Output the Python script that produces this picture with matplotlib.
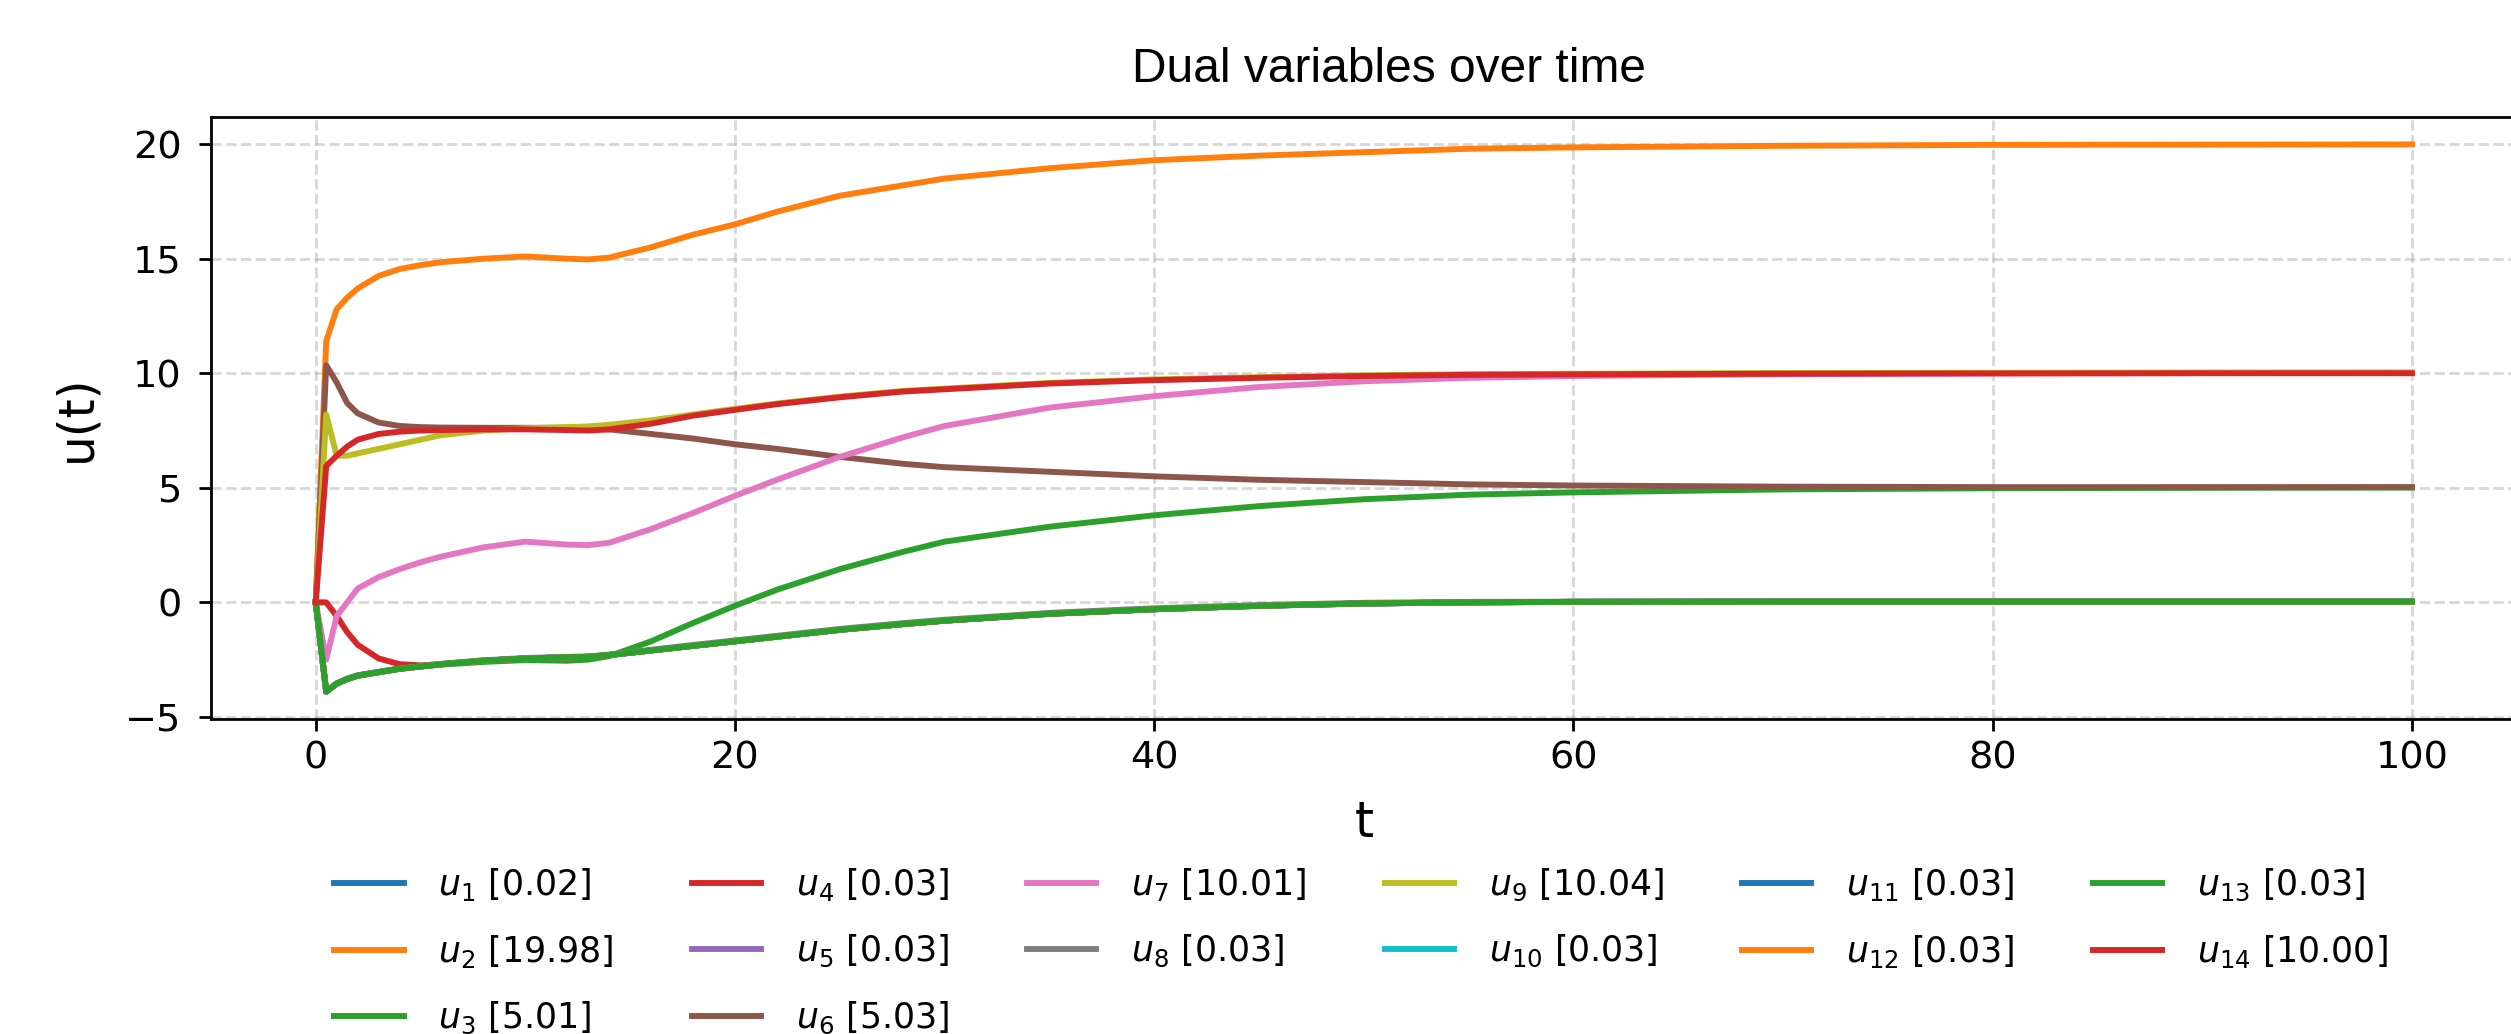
import matplotlib
matplotlib.use("Agg")
import matplotlib.pyplot as plt
import numpy as np

# time samples
t = [0, 0.5, 1, 1.5, 2, 3, 4, 5, 6, 8, 10, 12, 13, 14, 16, 18, 20, 22, 25, 28,
     30, 35, 40, 45, 50, 55, 60, 70, 80, 90, 100]

# lower bundle that most of the ~0 duals follow
u_bundle = [0, -3.9, -3.55, -3.35, -3.2, -3.05, -2.9, -2.8, -2.7, -2.55, -2.45,
            -2.4, -2.38, -2.3, -2.1, -1.9, -1.7, -1.5, -1.2, -0.95, -0.8, -0.5,
            -0.3, -0.15, -0.05, 0.0, 0.02, 0.03, 0.03, 0.03, 0.03]
u2 = [0, 11.4, 12.8, 13.3, 13.7, 14.25, 14.55, 14.72, 14.85, 15.0, 15.1, 15.0,
      14.97, 15.05, 15.5, 16.05, 16.5, 17.05, 17.75, 18.2, 18.5, 18.95, 19.3,
      19.5, 19.65, 19.8, 19.86, 19.93, 19.97, 19.98, 19.99]
u3 = [0, -3.9, -3.55, -3.35, -3.2, -3.05, -2.9, -2.8, -2.72, -2.6, -2.52, -2.55,
      -2.5, -2.35, -1.7, -0.9, -0.15, 0.55, 1.45, 2.2, 2.65, 3.3, 3.8, 4.2, 4.5,
      4.7, 4.8, 4.93, 4.98, 5.0, 5.01]
u4 = [0, 0.0, -0.6, -1.3, -1.85, -2.45, -2.7, -2.75, -2.7, -2.55, -2.45, -2.4,
      -2.38, -2.3, -2.1, -1.9, -1.7, -1.5, -1.2, -0.95, -0.8, -0.5, -0.3, -0.15,
      -0.05, 0.0, 0.02, 0.03, 0.03, 0.03, 0.03]
u6 = [0, 10.35, 9.6, 8.7, 8.25, 7.85, 7.7, 7.65, 7.63, 7.62, 7.62, 7.62, 7.6,
      7.55, 7.35, 7.15, 6.9, 6.7, 6.35, 6.05, 5.9, 5.7, 5.5, 5.35, 5.25, 5.15,
      5.1, 5.05, 5.03, 5.03, 5.03]
u7 = [0, -2.5, -0.6, 0.0, 0.6, 1.1, 1.45, 1.75, 2.0, 2.4, 2.65, 2.52, 2.5, 2.6,
      3.2, 3.9, 4.65, 5.35, 6.35, 7.2, 7.7, 8.5, 9.0, 9.4, 9.65, 9.8, 9.88,
      9.96, 10.0, 10.01, 10.01]
u8 = [0, -3.88, -3.53, -3.33, -3.18, -3.03, -2.88, -2.78, -2.68, -2.53, -2.43,
      -2.38, -2.36, -2.28, -2.07, -1.86, -1.66, -1.46, -1.16, -0.91, -0.76,
      -0.46, -0.26, -0.12, -0.02, 0.02, 0.03, 0.03, 0.03, 0.03, 0.03]
u9 = [0, 8.2, 6.4, 6.4, 6.5, 6.7, 6.9, 7.1, 7.3, 7.5, 7.6, 7.65, 7.68, 7.75,
      7.95, 8.2, 8.45, 8.68, 8.98, 9.23, 9.33, 9.58, 9.73, 9.83, 9.91, 9.96,
      9.98, 10.01, 10.02, 10.03, 10.04]
u14 = [0, 5.95, 6.4, 6.8, 7.1, 7.35, 7.45, 7.5, 7.52, 7.55, 7.55, 7.52, 7.5,
       7.55, 7.8, 8.15, 8.4, 8.65, 8.95, 9.2, 9.3, 9.55, 9.7, 9.8, 9.88, 9.93,
       9.95, 9.98, 9.99, 10.0, 10.0]

series = [u_bundle, u2, u3, u4, u_bundle, u6, u7, u8, u9, u_bundle, u_bundle,
          u_bundle, u_bundle, u14]
# bracketed values shown in the legend
final_vals = [0.02, 19.98, 5.01, 0.03, 0.03, 5.03, 10.01, 0.03, 10.04, 0.03,
              0.03, 0.03, 0.03, 10.00]

fig = plt.figure(figsize=(10.044, 4.136), dpi=250)
ax = fig.add_axes([0.0840, 0.3046, 0.9183, 0.5822])

for i, (ys, v) in enumerate(zip(series, final_vals), start=1):
    ax.plot(t, ys, linewidth=1.7, label=f"$u_{{{i}}}$ [{v:.2f}]")

ax.grid(True, linestyle="--", alpha=0.5)
ax.tick_params(axis="x", labelsize=11, pad=2.6)
ax.tick_params(axis="y", labelsize=11, pad=5)
ax.set_xlabel("t", fontsize=14, labelpad=6.6)
ax.set_ylabel("u(t)", fontsize=14, labelpad=7)
ax.set_title("Dual variables over time", fontsize=13.8,
             fontfamily="Liberation Sans", x=0.511, pad=10)

fig.legend(loc="upper center", bbox_to_anchor=(0.542, 0.193), ncol=6,
           frameon=False, fontsize=10, labelspacing=0.87,
           handletextpad=1.0, columnspacing=2.25)

fig.savefig("out.png", dpi=250)
